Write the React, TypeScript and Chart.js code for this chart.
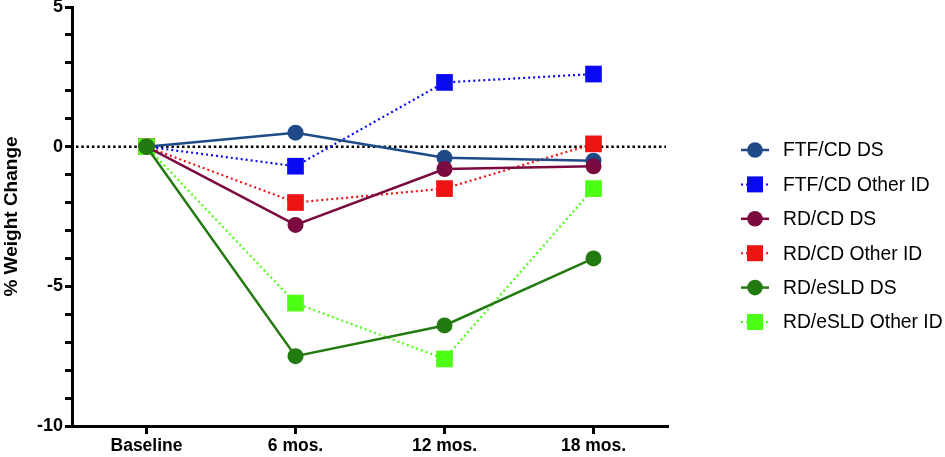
import React, { useEffect, useRef } from "react";
import { Chart, registerables } from "chart.js";

Chart.register(...registerables);

const categories = ["Baseline", "6 mos.", "12 mos.", "18 mos."];
const seriesNames = [
  "FTF/CD DS",
  "FTF/CD Other ID",
  "RD/CD DS",
  "RD/CD Other ID",
  "RD/eSLD DS",
  "RD/eSLD Other ID",
];
const ftfCdDs = [0, 0.5, -0.4, -0.5];
const ftfCdOther = [0, -0.7, 2.3, 2.6];
const rdCdDs = [0, -2.8, -0.8, -0.7];
const rdCdOther = [0, -2.0, -1.5, 0.1];
const rdEsldDs = [0, -7.5, -6.4, -4.0];
const rdEsldOther = [0, -5.6, -7.6, -1.5];
const yTickLabels = [5, 0, -5, -10];

const colors = ["#1E4A88", "#0A0AF2", "#7A0A40", "#EE1414", "#237A10", "#4CFF14"];
const isDotted = [false, true, false, true, false, true];
const values = [ftfCdDs, ftfCdOther, rdCdDs, rdCdOther, rdEsldDs, rdEsldOther];
const drawOrder = [2, 5, 1, 4, 0, 3];

const FONT = "'Liberation Sans', Arial, Helvetica, sans-serif";
const AREA_TOP = 7;

const topFixPlugin = {
  id: "topFix",
  afterLayout(chart: any) {
    const y = chart.scales && chart.scales.y;
    if (!y || !chart.chartArea) return;
    y.top = AREA_TOP;
    y.height = y.bottom - AREA_TOP;
    y.configure();
    chart.chartArea.top = AREA_TOP;
    chart.chartArea.height = chart.chartArea.bottom - AREA_TOP;
  },
};

const zeroLinePlugin = {
  id: "zeroLine",
  beforeDatasetsDraw(chart: any) {
    const { ctx, chartArea, scales } = chart;
    const y = scales.y.getPixelForValue(0);
    ctx.save();
    ctx.strokeStyle = "#000";
    ctx.lineWidth = 2.5;
    ctx.setLineDash([2.5, 2.8]);
    ctx.beginPath();
    ctx.moveTo(chartArea.left + 4, y);
    ctx.lineTo(chartArea.right - 2, y);
    ctx.stroke();
    ctx.restore();
  },
};

const legendPlugin = {
  id: "customLegend",
  afterDraw(chart: any) {
    const { ctx } = chart;
    const x0 = 741;
    const x1 = 769;
    const textX = 783;
    const startY = 150;
    const step = 34.4;
    ctx.save();
    seriesNames.forEach((name, i) => {
      const y = startY + i * step;
      const c = colors[i];
      ctx.strokeStyle = c;
      ctx.fillStyle = c;
      if (isDotted[i]) {
        ctx.lineWidth = 2;
        ctx.setLineDash([2, 3]);
      } else {
        ctx.lineWidth = 2.5;
        ctx.setLineDash([]);
      }
      ctx.beginPath();
      ctx.moveTo(x0, y);
      ctx.lineTo(x1, y);
      ctx.stroke();
      ctx.setLineDash([]);
      const cx = (x0 + x1) / 2;
      if (isDotted[i]) {
        ctx.fillRect(cx - 8, y - 8, 16, 16);
      } else {
        ctx.beginPath();
        ctx.arc(cx, y, 7.8, 0, Math.PI * 2);
        ctx.fill();
      }
      ctx.fillStyle = "#000";
      ctx.font = `19.3px ${FONT}`;
      ctx.textBaseline = "middle";
      ctx.textAlign = "left";
      ctx.fillText(name, textX, y + 1);
    });
    ctx.restore();
  },
};

export default function App() {
  const ref = useRef<HTMLCanvasElement>(null);
  useEffect(() => {
    if (!ref.current) return;
    const chart = new Chart(ref.current, {
      type: "line",
      data: {
        labels: categories,
        datasets: seriesNames.map((name, i) => ({
          label: name,
          data: values[i],
          borderColor: colors[i],
          backgroundColor: colors[i],
          borderWidth: isDotted[i] ? 2.2 : 2.5,
          borderDash: isDotted[i] ? [2, 3] : [],
          pointStyle: isDotted[i] ? "rect" : "circle",
          pointRadius: isDotted[i] ? 11.8 : 8,
          pointHoverRadius: isDotted[i] ? 11.8 : 8,
          pointBorderWidth: 0,
          pointBackgroundColor: colors[i],
          pointBorderColor: colors[i],
          tension: 0,
          order: drawOrder[i],
          clip: false as any,
        })),
      },
      options: {
        animation: false,
        responsive: true,
        maintainAspectRatio: false,
        layout: { padding: { top: 1, right: 277, left: 0, bottom: 0 } },
        plugins: {
          legend: { display: false },
          tooltip: { enabled: false },
        },
        scales: {
          x: {
            type: "category",
            offset: true,
            grid: {
              drawOnChartArea: false,
              drawTicks: true,
              tickLength: 8,
              tickWidth: 3,
              tickColor: "#000",
              offset: false,
            },
            border: { display: true, color: "#000", width: 3 },
            ticks: {
              color: "#000",
              padding: 2,
              font: { family: FONT, size: 17.5, weight: "bold" },
              maxRotation: 0,
            },
            afterFit: (scale: any) => {
              scale.height = 31;
            },
          },
          y: {
            min: -10,
            max: 5,
            grid: {
              drawOnChartArea: false,
              drawTicks: true,
              tickLength: 7,
              tickWidth: 3,
              tickColor: "#000",
            },
            border: { display: true, color: "#000", width: 3 },
            ticks: {
              stepSize: 1,
              autoSkip: false,
              color: "#000",
              padding: 2,
              font: { family: FONT, size: 18, weight: "bold", lineHeight: 0.7 },
              callback: (v: any) => (yTickLabels.includes(Number(v)) ? String(v) : ""),
            },
            title: {
              display: true,
              text: "% Weight Change",
              color: "#000",
              font: { family: FONT, size: 19, weight: "bold" },
              padding: { top: 0, bottom: 0 },
            },
            afterFit: (scale: any) => {
              scale.width = 72;
            },
          },
        },
      },
      plugins: [topFixPlugin, zeroLinePlugin, legendPlugin],
    });
    return () => chart.destroy();
  }, []);
  return (
    <div style={{ position: "absolute", left: 0, top: 0, width: 945, height: 457, background: "#fff" }}>
      <canvas ref={ref} />
    </div>
  );
}
